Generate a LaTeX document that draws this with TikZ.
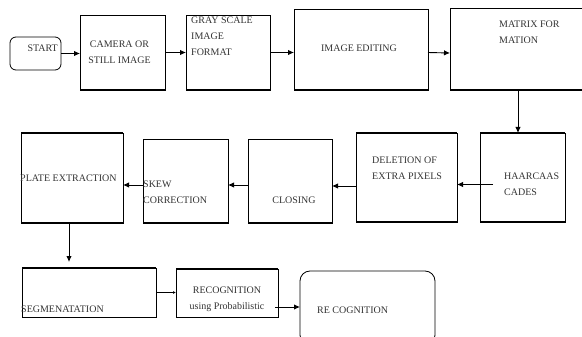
\documentclass[tikz,border=0pt]{standalone}
\usepackage{fontspec}
\setmainfont{Liberation Serif}
\usetikzlibrary{calc,arrows.meta}

\tikzset{
  box/.style={draw, line width=0.8pt, inner sep=0pt, outer sep=0pt},
  roundbox/.style={box, rounded corners=6pt},
  txt/.style={inner sep=0pt, text=black!80, font=\fontsize{10}{16}\selectfont},
  edge/.style={line width=2.4pt},
  arr/.style={-{Latex[length=6pt,width=5.5pt]}, line width=0.9pt},
}

\begin{document}
\begin{tikzpicture}[x=1pt,y=-1pt]
 \clip (0,0) rectangle (582,337);

 %row 1
 \node[roundbox, minimum width=51pt, minimum height=33pt] (start) at (35.5,53.5) {};
 \node[box, minimum width=85pt, minimum height=75pt] (cam) at (122.5,52.5) {};
 \node[box, minimum width=84pt, minimum height=75pt] (gray) at (228,52.5) {};
 \node[box, minimum width=134pt, minimum height=81pt] (edit) at (361,49.5) {};
 \node[box, minimum width=140pt, minimum height=82pt] (matrix) at (520,49) {};

 \node[txt, anchor=east] (tstart) at ($(start.east)+(-3,-5)$) {START};
 \node[txt, align=center] (tcam) at ($(cam)+(-3,0)$) {CAMERA OR\\STILL IMAGE};
 \node[txt, align=left, anchor=north west] (tgray) at (191,17) {GRAY SCALE\\IMAGE\\FORMAT};
 \node[txt] (tedit) at ($(edit)+(-2,-1)$) {IMAGE EDITING};
 \node[txt, align=left, anchor=north west] (tmatrix) at (499,21) {MATRIX FOR\\MATION};

 %row 2
 \node[box, minimum width=85pt, minimum height=89pt] (haar) at (522.5,177.5) {};
 \node[box, minimum width=101pt, minimum height=89pt] (del) at (406.5,177.5) {};
 \node[box, minimum width=84pt, minimum height=84pt] (closing) at (290,181) {};
 \node[box, minimum width=85pt, minimum height=84pt] (skew) at (185.5,181) {};
 \node[box, minimum width=102pt, minimum height=90pt] (plate) at (72,178) {};

 \node[txt, align=left, anchor=west] (thaar) at (504,184) {HAARCAAS\\CADES};
 \node[txt, align=left, anchor=west] (tdel) at (372,168) {DELETION OF\\EXTRA PIXELS};
 \node[txt] (tclosing) at (294,200) {CLOSING};
 \node[txt, align=left, anchor=west] (tskew) at (143,192) {SKEW\\CORRECTION};
 \node[txt, anchor=west] (tplate) at (20,178) {PLATE EXTRACTION};

 %row 3
 \node[box, minimum width=134pt, minimum height=49pt] (seg) at (89,292.5) {};
 \node[box, minimum width=102pt, minimum height=48pt] (recog) at (227,293) {};
 \node[roundbox, rounded corners=10pt, minimum width=135pt, minimum height=74pt] (final) at (367.5,308) {};

 \node[txt, anchor=west] (tseg) at (21,309) {SEGMENATATION};
 \node[txt, align=center] (trecog) at (227,299) {RECOGNITION\\using Probabilistic};
 \node[txt, anchor=west] (tfinal) at (317,310) {RE COGNITION};

 %thick edges
 \foreach \n/\a/\b in {cam/south west/south east, gray/south west/south east,
     edit/south west/south east, matrix/south west/south east,
     haar/north west/north east, haar/south west/south east,
     del/north west/north east, del/south west/south east,
     closing/south west/south east, skew/south west/south east,
     plate/north west/north east, plate/south west/south east,
     seg/north west/north east, recog/north west/north east} {
   \draw[edge] (\n.\a) -- (\n.\b);
 }

 %arrows
 \draw[arr] (start.east) -- (start.east -| cam.west);
 \draw[arr] (cam.east) -- (cam.east -| gray.west);
 \draw[arr] (gray.east) -- (gray.east -| edit.west);
 \draw[arr] ($(edit.east)+(0,3)$) -- ($(matrix.west)+(0,4)$);
 \draw[arr] ($(matrix.south)+(-2,0)$) -- ($(haar.north)+(-4.5,0)$);
 \draw[arr] ($(haar.west)+(13,7)$) -- ($(del.east)+(0,7)$);
 \draw[arr] ($(del.west)+(0,8.5)$) -- ($(closing.east)+(0,5)$);
 \draw[arr] ($(closing.west)+(0,4)$) -- ($(skew.east)+(0,4)$);
 \draw[arr] ($(skew.west)+(0,4)$) -- ($(plate.east)+(0,7)$);
 \draw[arr] ($(plate.south)+(-3,0)$) -- ($(seg.north)+(-20,-6)$);
 \draw[-{Latex[length=3pt,width=3pt]}, line width=0.9pt] (seg.east) -- ($(recog.west)+(0,-0.5)$);
 \draw[arr] ($(recog.east)+(-3,14)$) -- ($(final.west)+(0,-1)$);

\end{tikzpicture}
\end{document}
